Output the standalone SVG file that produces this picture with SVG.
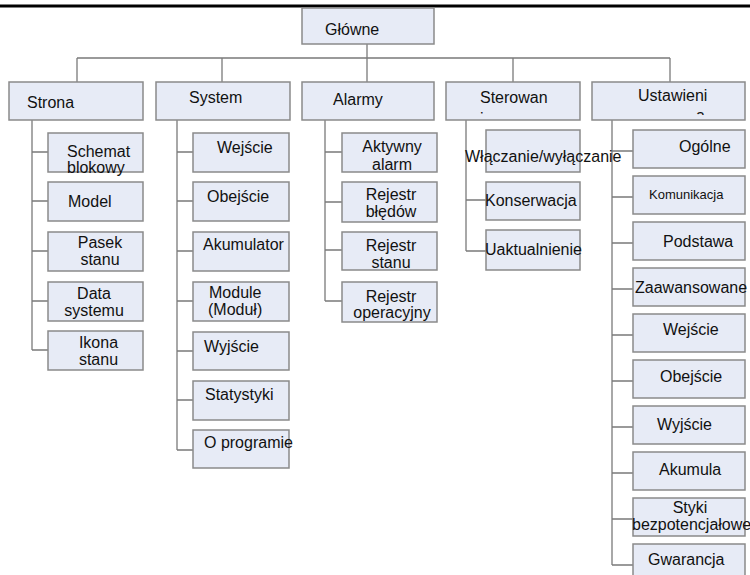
<svg xmlns="http://www.w3.org/2000/svg" width="750" height="575" viewBox="0 0 750 575">
<defs>
<style>
.box{fill:#e7ebf6;stroke:#8a8a8a;stroke-width:1.5}
.ln{stroke:#7a7a7a;stroke-width:1.3;fill:none}
text{font-family:"Liberation Sans",Arial,sans-serif;font-size:16px;fill:#111111}
.m{text-anchor:middle}
.sm{font-size:13px}
</style>
<clipPath id="clipSter"><rect x="446" y="82" width="134" height="32"/></clipPath>
<clipPath id="clipUst"><rect x="592" y="82" width="153" height="33"/></clipPath>
</defs>
<rect x="0" y="0" width="750" height="575" fill="#ffffff"/>
<line x1="0" y1="6" x2="750" y2="6" stroke="#000" stroke-width="3"/>

<g id="connectors" class="ln">
<path d="M367 44V82M77 58H670M77 58V82M222 58V82M513 58V82M670 58V82"/>
<path d="M32 120V350M32 152H48M32 201H48M32 251H48M32 301H48M32 350H48"/>
<path d="M177 120V450M177 152H193M177 201H193M177 251H193M177 301H193M177 351H193M177 400H193M177 450H193"/>
<path d="M325 120V301M325 152H342M325 202H342M325 250H342M325 301H342"/>
<path d="M466 120V251M466 200H486M466 251H486"/>
<path d="M612 120V565M612 151H633M612 197H633M612 243H633M612 289H633M612 335H633M612 381H633M612 427H633M612 473H633M612 519H633M612 565H633"/>
</g>

<g id="glowne"><rect class="box" x="302" y="8" width="132" height="36"/><text x="325" y="35">Główne</text></g>

<g id="strona"><rect class="box" x="9" y="82" width="134" height="38"/><text x="27" y="108">Strona</text></g>
<g id="system"><rect class="box" x="156" y="82" width="134" height="38"/><text x="189" y="103">System</text></g>
<g id="alarmy"><rect class="box" x="302" y="82" width="132" height="38"/><text x="333" y="105">Alarmy</text></g>
<g id="sterowanie"><rect class="box" x="446" y="82" width="134" height="38"/><g clip-path="url(#clipSter)"><text x="480" y="103">Sterowan</text><text x="480" y="124">ie</text></g></g>
<g id="ustawienia"><rect class="box" x="592" y="82" width="153" height="38"/><g clip-path="url(#clipUst)"><text x="638" y="101">Ustawieni</text><text x="696" y="120.5">a</text></g></g>

<g id="schemat"><rect class="box" x="48" y="133" width="95" height="39"/><text x="67" y="157">Schemat</text><text x="67" y="173">blokowy</text></g>
<g id="model"><rect class="box" x="48" y="182" width="95" height="39"/><text x="68" y="207">Model</text></g>
<g id="pasek"><rect class="box" x="48" y="232" width="95" height="39"/><text class="m" x="100" y="248">Pasek</text><text class="m" x="100" y="265">stanu</text></g>
<g id="data"><rect class="box" x="48" y="282" width="95" height="39"/><text class="m" x="94" y="299">Data</text><text class="m" x="94" y="316">systemu</text></g>
<g id="ikona"><rect class="box" x="48" y="331" width="95" height="39"/><text class="m" x="98.5" y="348">Ikona</text><text class="m" x="98.5" y="365">stanu</text></g>

<g id="sys-wejscie"><rect class="box" x="193" y="133" width="96" height="39"/><text x="217" y="153">Wejście</text></g>
<g id="sys-obejscie"><rect class="box" x="193" y="182" width="96" height="39"/><text x="207" y="202">Obejście</text></g>
<g id="sys-akumulator"><rect class="box" x="193" y="232" width="96" height="39"/><text x="203" y="250">Akumulator</text></g>
<g id="sys-module"><rect class="box" x="193" y="282" width="96" height="39"/><text x="209" y="298">Module</text><text x="208" y="315">(Moduł)</text></g>
<g id="sys-wyjscie"><rect class="box" x="193" y="332" width="96" height="38"/><text x="204" y="352">Wyjście</text></g>
<g id="sys-statystyki"><rect class="box" x="193" y="381" width="96" height="39"/><text x="205" y="400">Statystyki</text></g>
<g id="sys-oprogramie"><rect class="box" x="193" y="430" width="96" height="38"/><text x="204" y="448">O programie</text></g>

<g id="al-aktywny"><rect class="box" x="342" y="133" width="95" height="39"/><text class="m" x="392" y="152">Aktywny</text><text class="m" x="392" y="170">alarm</text></g>
<g id="al-bledow"><rect class="box" x="342" y="182" width="95" height="40"/><text class="m" x="391" y="200">Rejestr</text><text class="m" x="391" y="217">błędów</text></g>
<g id="al-stanu"><rect class="box" x="342" y="232" width="95" height="38"/><text class="m" x="391" y="251">Rejestr</text><text class="m" x="391" y="268">stanu</text></g>
<g id="al-operacyjny"><rect class="box" x="342" y="282" width="95" height="40"/><text class="m" x="391" y="302">Rejestr</text><text class="m" x="392" y="318">operacyjny</text></g>

<g id="st-wlaczanie"><rect class="box" x="486" y="130" width="94" height="42"/><text x="465" y="162">Włączanie/wyłączanie</text></g>
<g id="st-konserwacja"><rect class="box" x="486" y="182" width="94" height="38"/><text x="485" y="206">Konserwacja</text></g>
<g id="st-uaktualnienie"><rect class="box" x="486" y="230" width="94" height="40"/><text x="485" y="255">Uaktualnienie</text></g>

<g id="us-ogolne"><rect class="box" x="633" y="130" width="112" height="38"/><text x="679" y="152">Ogólne</text></g>
<g id="us-komunikacja"><rect class="box" x="633" y="176" width="112" height="38"/><text class="sm" x="649" y="199">Komunikacja</text></g>
<g id="us-podstawa"><rect class="box" x="633" y="222" width="112" height="38"/><text x="663" y="247">Podstawa</text></g>
<g id="us-zaawansowane"><rect class="box" x="633" y="268" width="112" height="38"/><text x="635" y="293">Zaawansowane</text></g>
<g id="us-wejscie"><rect class="box" x="633" y="314" width="112" height="38"/><text x="663" y="335">Wejście</text></g>
<g id="us-obejscie"><rect class="box" x="633" y="360" width="112" height="38"/><text x="660" y="382">Obejście</text></g>
<g id="us-wyjscie"><rect class="box" x="633" y="406" width="112" height="38"/><text x="657" y="430">Wyjście</text></g>
<g id="us-akumula"><rect class="box" x="633" y="452" width="112" height="38"/><text x="659" y="475">Akumula</text></g>
<g id="us-styki"><rect class="box" x="633" y="498" width="112" height="38"/><text class="m" x="690" y="513">Styki</text><text x="632" y="530">bezpotencjałowe</text></g>
<g id="us-gwarancja"><rect class="box" x="633" y="544" width="112" height="38"/><text x="648" y="565">Gwarancja</text></g>
</svg>
